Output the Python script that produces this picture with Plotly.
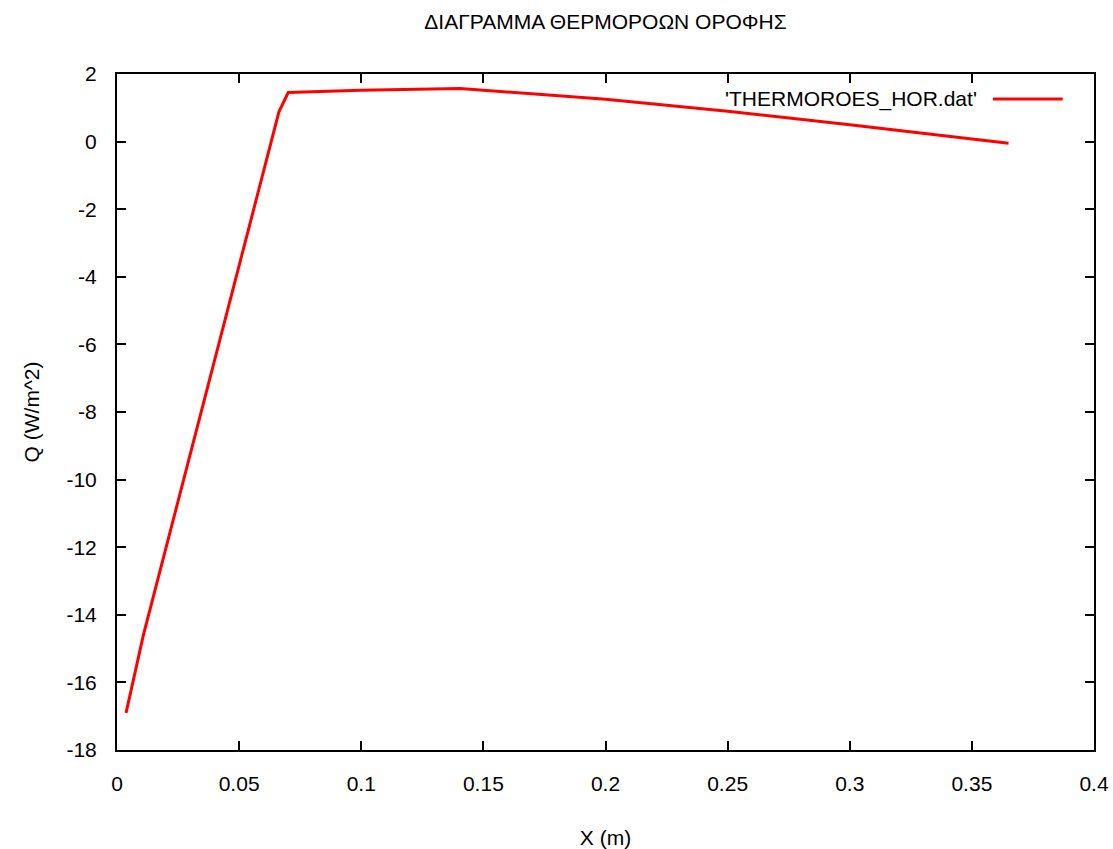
import plotly.graph_objects as go

# Roof heat-flux profile: position through the slab (m) vs heat flux (W/m^2)
x_m = [0.0037, 0.0108, 0.0663, 0.0701, 0.100, 0.1405, 0.200, 0.250, 0.300, 0.365]
q_wm2 = [-16.9, -14.6, 0.88, 1.45, 1.52, 1.57, 1.25, 0.90, 0.50, -0.05]

series_name = "'THERMOROES_HOR.dat'"
title_text = "ΔΙΑΓΡΑΜΜΑ ΘΕΡΜΟΡΟΩΝ ΟΡΟΦΗΣ"
x_title = "X (m)"
y_title = "Q (W/m^2)"

x_ticks = [0, 0.05, 0.1, 0.15, 0.2, 0.25, 0.3, 0.35, 0.4]
x_ticktext = ["0", "0.05", "0.1", "0.15", "0.2", "0.25", "0.3", "0.35", "0.4"]
y_ticks = [2, 0, -2, -4, -6, -8, -10, -12, -14, -16, -18]
y_ticktext = ["2", "0", "-2", "-4", "-6", "-8", "-10", "-12", "-14", "-16", "-18"]

FONT = "Liberation Sans, Arial, sans-serif"
RED = "#ff0000"
FS = 21

fig = go.Figure()
fig.add_trace(go.Scatter(
    x=x_m, y=q_wm2, mode="lines", name=series_name,
    line=dict(color=RED, width=3), showlegend=False,
))

axis_common = dict(
    showline=True, linecolor="black", linewidth=2, mirror="ticks",
    ticks="inside", ticklen=9, tickwidth=2, tickcolor="black",
    showgrid=False, zeroline=False, automargin=False,
    tickfont=dict(family=FONT, size=FS, color="black"),
)

fig.update_layout(
    width=1113, height=849,
    margin=dict(l=117, r=19, t=74, b=99),
    paper_bgcolor="white", plot_bgcolor="white",
    font=dict(family=FONT, size=FS, color="black"),
    title=dict(text=title_text, x=(117 + 1094) / 2 / 1113, xanchor="center",
               y=1 - 22 / 849, yanchor="middle",
               font=dict(family=FONT, size=FS, color="black")),
    xaxis=dict(range=[0, 0.4], tickvals=x_ticks, ticktext=x_ticktext,
               ticklabelstandoff=14,
               title=dict(text=x_title, standoff=44,
                          font=dict(family=FONT, size=FS)),
               **axis_common),
    yaxis=dict(range=[-18, 2], tickvals=y_ticks, ticktext=y_ticktext,
               ticklabelstandoff=14,
               title=dict(text=y_title, standoff=21,
                          font=dict(family=FONT, size=FS)),
               **axis_common),
)

# Key in the upper right: label followed by a line sample
fig.add_annotation(
    xref="paper", yref="paper", x=0.882, y=0.963,
    xanchor="right", yanchor="middle", showarrow=False,
    text=series_name, font=dict(family=FONT, size=FS, color="black"),
)
fig.add_shape(
    type="line", xref="paper", yref="paper",
    x0=0.8966, x1=0.968, y0=0.963, y1=0.963,
    line=dict(color=RED, width=3),
)

fig.write_html("out.html")
